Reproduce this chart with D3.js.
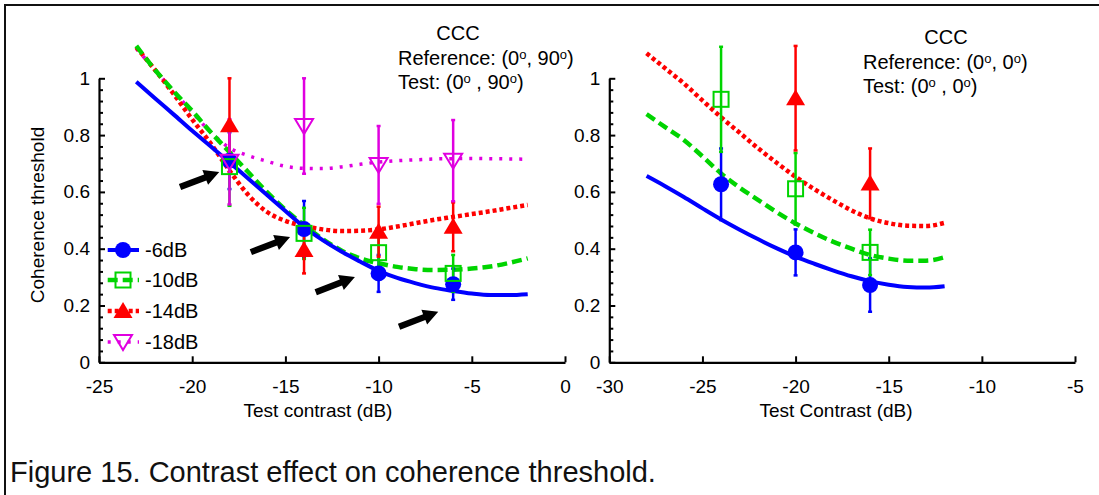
<!DOCTYPE html>
<html><head><meta charset="utf-8">
<script src="https://cdn.jsdelivr.net/npm/d3@7"></script>
<style>
html,body{margin:0;padding:0;background:#fff;}
svg{display:block;font-family:Arial,"Liberation Sans",sans-serif;}
</style></head><body>
<svg id="chart" width="1099" height="495"></svg>
<script>
// ---- series styling keys ----
const seriesNames = ["-6dB", "-10dB", "-14dB", "-18dB"];
const seriesColors = ["#0000ff", "#00d400", "#ff0000", "#e000e0"];

// ---- left panel: Reference (0°, 90°), Test (0°, 90°) ----
const leftDb6 = [-18, -14, -10, -6];
const leftMean6 = [0.71, 0.469, 0.313, 0.275];
const leftErr6 = [0.10, 0.099, 0.065, 0.055];
const leftDb10 = [-18, -14, -10, -6];
const leftMean10 = [0.689, 0.454, 0.386, 0.313];
const leftErr10 = [0.138, 0.09, 0.06, 0.065];
const leftDb14 = [-18, -14, -10, -6];
const leftMean14 = [0.835, 0.395, 0.46, 0.477];
const leftErr14 = [0.165, 0.082, 0.088, 0.086];
const leftDb18 = [-18, -14, -10, -6];
const leftMean18 = [0.706, 0.832, 0.695, 0.71];
const leftErr18 = [0.15, 0.168, 0.137, 0.143];

// model curves, left panel
const leftFitDb = [-23, -22, -21, -20, -19, -18, -17, -16, -15, -14, -13, -12, -11, -10, -9, -8, -7, -6, -5, -4, -3, -2];
const leftFit6 = [0.988, 0.93, 0.873, 0.815, 0.76, 0.704, 0.647, 0.59, 0.533, 0.477, 0.43, 0.39, 0.355, 0.322, 0.297, 0.278, 0.262, 0.251, 0.242, 0.237, 0.237, 0.240];
const leftFit10 = [1.114, 1.03, 0.955, 0.885, 0.81, 0.74, 0.67, 0.60, 0.537, 0.483, 0.434, 0.394, 0.366, 0.349, 0.336, 0.328, 0.325, 0.326, 0.33, 0.337, 0.35, 0.366];
const leftFit14 = [1.109, 1.03, 0.945, 0.855, 0.77, 0.675, 0.59, 0.53, 0.498, 0.48, 0.468, 0.462, 0.463, 0.468, 0.478, 0.49, 0.502, 0.512, 0.522, 0.532, 0.543, 0.554];
const leftFit18 = [1.105, 1.03, 0.955, 0.88, 0.81, 0.755, 0.728, 0.708, 0.69, 0.683, 0.682, 0.688, 0.697, 0.705, 0.71, 0.713, 0.716, 0.717, 0.718, 0.717, 0.716, 0.715];

// arrow tips (data coordinates), left panel
const arrowDb = [-18.55, -14.75, -11.27, -6.8];
const arrowValue = [0.67, 0.441, 0.30, 0.178];

// ---- right panel: Reference (0°, 0°), Test (0°, 0°) ----
const rightDb6 = [-24, -20, -16];
const rightMean6 = [0.627, 0.387, 0.272];
const rightErr6 = [0.126, 0.081, 0.094];
const rightDb10 = [-24, -20, -16];
const rightMean10 = [0.926, 0.611, 0.387];
const rightErr10 = [0.185, 0.126, 0.08];
const rightDb14 = [-20, -16];
const rightMean14 = [0.930, 0.630];
const rightErr14 = [0.184, 0.123];

const rightFitDb = [-28, -27, -26, -25, -24, -23, -22, -21, -20, -19, -18, -17, -16, -15, -14, -13, -12];
const rightFit6 = [0.656, 0.62, 0.582, 0.542, 0.503, 0.467, 0.433, 0.401, 0.372, 0.347, 0.324, 0.303, 0.286, 0.273, 0.265, 0.263, 0.268];
const rightFit10 = [0.874, 0.828, 0.783, 0.725, 0.665, 0.615, 0.571, 0.528, 0.489, 0.455, 0.425, 0.40, 0.378, 0.365, 0.358, 0.358, 0.37];
const rightFit14 = [1.088, 1.035, 0.982, 0.922, 0.863, 0.808, 0.753, 0.702, 0.653, 0.61, 0.571, 0.535, 0.507, 0.49, 0.481, 0.48, 0.491];

// ---- axis ticks ----
const yMajorTicks = [0, 0.2, 0.4, 0.6, 0.8, 1];
const yMinorTicks = [0.04, 0.08, 0.12, 0.16, 0.24, 0.28, 0.32, 0.36, 0.44, 0.48, 0.52, 0.56, 0.64, 0.68, 0.72, 0.76, 0.84, 0.88, 0.92, 0.96];
const leftXTicks = [-25, -20, -15, -10, -5, 0];
const rightXTicks = [-30, -25, -20, -15, -10, -5];

// line styles per series: width and dash
const lineStyle = [
  {w: 4, dash: null},
  {w: 4.5, dash: "10,5"},
  {w: 4.5, dash: "4,3"},
  {w: 3.5, dash: "3,7"}
];

const svg = d3.select("#chart");

// figure frame (top and left edges)
svg.append("path")
  .attr("d", "M5,495V5H1099")
  .attr("fill", "none").attr("stroke", "#111").attr("stroke-width", 2);

function zip(xs, ys, es) {
  return xs.map((x, i) => ({x, y: ys[i], e: es ? es[i] : 0}));
}

function marker(g, kind, cx, cy, color) {
  if (kind === 0) {
    g.append("circle").attr("cx", cx).attr("cy", cy).attr("r", 8).attr("fill", color);
  } else if (kind === 1) {
    g.append("rect").attr("x", cx - 7.5).attr("y", cy - 7.5).attr("width", 15).attr("height", 15)
      .attr("fill", "none").attr("stroke", color).attr("stroke-width", 2);
  } else if (kind === 2) {
    g.append("path").attr("d", `M${cx},${cy - 9}L${cx + 9.5},${cy + 7}L${cx - 9.5},${cy + 7}Z`).attr("fill", color);
  } else {
    g.append("path").attr("d", `M${cx - 9},${cy - 7}L${cx + 9},${cy - 7}L${cx},${cy + 8}Z`)
      .attr("fill", "none").attr("stroke", color).attr("stroke-width", 2);
  }
}

function panel(opts) {
  const x = d3.scaleLinear().domain(opts.xDomain).range(opts.xRange);
  const y = d3.scaleLinear().domain([0, 1]).range([362.3, 78.3]);
  const g = svg.append("g");

  // axes
  const xa = g.append("g").attr("transform", `translate(0,${y(0)})`)
    .call(d3.axisBottom(x).tickValues(opts.xTicks).tickSizeInner(-6).tickSizeOuter(0).tickPadding(17)
      .tickFormat(d => String(d)));
  const ya = g.append("g").attr("transform", `translate(${x(opts.xDomain[0])},0)`)
    .call(d3.axisLeft(y).tickValues(yMajorTicks).tickSizeInner(-6).tickSizeOuter(0).tickPadding(9)
      .tickFormat(d => String(d)));
  const ym = g.append("g").attr("transform", `translate(${x(opts.xDomain[0])},0)`)
    .call(d3.axisLeft(y).tickValues(yMinorTicks).tickSizeInner(-4).tickSizeOuter(0).tickFormat(""));
  ym.select(".domain").remove();
  [xa, ya, ym].forEach(a => {
    a.attr("font-size", null).attr("font-family", null);
    a.selectAll(".domain").attr("stroke", "#000").attr("stroke-width", 2.2);
    a.selectAll(".tick line").attr("stroke", "#000").attr("stroke-width", 2);
    a.selectAll("text").attr("fill", "#000").style("font-size", "19px");
  });

  // fitted curves
  const line = d3.line().x(d => x(d.x)).y(d => y(d.y)).curve(d3.curveMonotoneX);
  opts.fits.forEach(f => {
    const s = lineStyle[f.k];
    g.append("path").datum(zip(opts.fitDb, f.v))
      .attr("d", line).attr("fill", "none").attr("stroke", seriesColors[f.k])
      .attr("stroke-width", s.w).attr("stroke-dasharray", s.dash);
  });

  // error bars first, then markers
  opts.points.forEach(p => {
    const pts = zip(p.db, p.mean, p.err);
    pts.forEach(d => {
      const cx = x(d.x);
      g.append("line").attr("x1", cx).attr("x2", cx).attr("y1", y(d.y - d.e)).attr("y2", y(d.y + d.e))
        .attr("stroke", seriesColors[p.k]).attr("stroke-width", 2.5);
      [d.y - d.e, d.y + d.e].forEach(v => {
        g.append("line").attr("x1", cx - 2).attr("x2", cx + 2).attr("y1", y(v)).attr("y2", y(v))
          .attr("stroke", seriesColors[p.k]).attr("stroke-width", 2.5);
      });
    });
  });
  opts.points.forEach(p => {
    zip(p.db, p.mean).forEach(d => marker(g, p.k, x(d.x), y(d.y), seriesColors[p.k]));
  });

  // title block
  const t = g.append("g").style("font-size", "20px").attr("fill", "#000");
  t.append("text").attr("x", opts.ccc[0]).attr("y", opts.ccc[1]).attr("text-anchor", "middle").text("CCC");
  opts.lines.forEach((parts, i) => {
    const tx = t.append("text").attr("x", opts.textX).attr("y", opts.textY[i]);
    let raised = false;
    parts.forEach(pt => {
      const span = tx.append("tspan").text(pt.s);
      if (pt.sup) {
        span.style("font-size", "13px").attr("dy", -6);
        raised = true;
      } else if (raised) {
        span.attr("dy", 6);
        raised = false;
      }
    });
  });

  // x axis title
  g.append("text").attr("x", opts.xTitle[0]).attr("y", opts.xTitle[1]).attr("text-anchor", "middle")
    .style("font-size", "19px").text(opts.xLabel);

  return {x, y, g};
}

const L = panel({
  xDomain: [-25, 0], xRange: [99, 565], xTicks: leftXTicks,
  fitDb: leftFitDb,
  fits: [{k: 3, v: leftFit18}, {k: 2, v: leftFit14}, {k: 1, v: leftFit10}, {k: 0, v: leftFit6}],
  points: [
    {k: 0, db: leftDb6, mean: leftMean6, err: leftErr6},
    {k: 1, db: leftDb10, mean: leftMean10, err: leftErr10},
    {k: 2, db: leftDb14, mean: leftMean14, err: leftErr14},
    {k: 3, db: leftDb18, mean: leftMean18, err: leftErr18}
  ],
  ccc: [458, 40], textX: 398, textY: [65, 89],
  lines: [
    [{s: "Reference: (0"}, {s: "o", sup: true}, {s: ", 90"}, {s: "o", sup: true}, {s: ")"}],
    [{s: "Test: (0"}, {s: "o", sup: true}, {s: " , 90"}, {s: "o", sup: true}, {s: ")"}]
  ],
  xTitle: [318, 417], xLabel: "Test contrast (dB)"
});

const R = panel({
  xDomain: [-30, -5], xRange: [609.3, 1075], xTicks: rightXTicks,
  fitDb: rightFitDb,
  fits: [{k: 2, v: rightFit14}, {k: 1, v: rightFit10}, {k: 0, v: rightFit6}],
  points: [
    {k: 0, db: rightDb6, mean: rightMean6, err: rightErr6},
    {k: 1, db: rightDb10, mean: rightMean10, err: rightErr10},
    {k: 2, db: rightDb14, mean: rightMean14, err: rightErr14}
  ],
  ccc: [946, 44], textX: 863, textY: [69, 93],
  lines: [
    [{s: "Reference: (0"}, {s: "o", sup: true}, {s: ", 0"}, {s: "o", sup: true}, {s: ")"}],
    [{s: "Test: (0"}, {s: "o", sup: true}, {s: " , 0"}, {s: "o", sup: true}, {s: ")"}]
  ],
  xTitle: [836, 417], xLabel: "Test Contrast (dB)"
});

// arrows pointing at the -6dB points
const arrowAngle = Math.atan2(-15, 39);
arrowDb.forEach((db, i) => {
  const tx = L.x(db), ty = L.y(arrowValue[i]);
  const len = 42, shaft = 3.2, headW = 8, headL = 15;
  const pts = [[0, 0], [-headL, -headW], [-headL, -shaft], [-len, -shaft], [-len, shaft], [-headL, shaft], [-headL, headW]];
  const c = Math.cos(arrowAngle), s = Math.sin(arrowAngle);
  const p = pts.map(([u, v]) => [tx + u * c - v * s, ty + u * s + v * c]);
  L.g.append("path").attr("d", "M" + p.map(q => q.join(",")).join("L") + "Z").attr("fill", "#000");
});

// legend (left panel)
const legendY = [250, 280, 311, 342];
seriesNames.forEach((name, k) => {
  const lg = L.g.append("g");
  const s = lineStyle[k];
  lg.append("line").attr("x1", 107.7).attr("x2", 139).attr("y1", legendY[k]).attr("y2", legendY[k])
    .attr("stroke", seriesColors[k]).attr("stroke-width", s.w).attr("stroke-dasharray", s.dash);
  marker(lg, k, 123, legendY[k], seriesColors[k]);
  lg.append("text").attr("x", 145).attr("y", legendY[k]).attr("dy", "0.36em")
    .style("font-size", "20px").text(name);
});

// y axis title
svg.append("text").attr("transform", "translate(44,215) rotate(-90)").attr("text-anchor", "middle")
  .style("font-size", "19px").text("Coherence threshold");

// caption
svg.append("text").attr("x", 10).attr("y", 482).style("font-size", "29px").attr("fill", "#111")
  .text("Figure 15. Contrast effect on coherence threshold.");
</script>
</body></html>
